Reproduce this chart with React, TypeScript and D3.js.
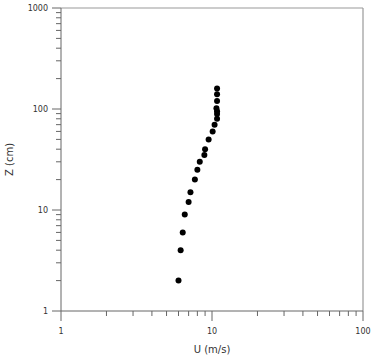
import React from "react";
import * as d3 from "d3";

const uValues = [6.0, 6.2, 6.4, 6.6, 7.0, 7.2, 7.7, 8.0, 8.3, 8.9, 9.0, 9.5, 10.1, 10.4, 10.8, 10.8, 10.8, 10.7, 10.8, 10.8, 10.8];
const zValues = [2, 4, 6, 9, 12, 15, 20, 25, 30, 35, 40, 50, 60, 70, 80, 89, 95, 102, 120, 140, 160];
const xTickLabels = [1, 10, 100];
const yTickLabels = [1, 10, 100, 1000];
const xTitle = "U (m/s)";
const yTitle = "Z (cm)";

const W = 371, H = 355;
const left = 61, right = 363, top = 8, bottom = 311;

function minorTicks(lo: number, hi: number) {
  const out: number[] = [];
  for (let d = lo; d < hi; d *= 10) {
    for (let k = 2; k <= 9; k++) out.push(d * k);
  }
  return out;
}

export default function App() {
  const x = d3.scaleLog().domain([1, 100]).range([left, right]);
  const y = d3.scaleLog().domain([1, 1000]).range([bottom, top]);
  const font = "DejaVu Sans, sans-serif";
  const axisColor = "#666";
  const frameColor = "#999";
  return (
    <svg width={W} height={H} style={{ position: "absolute", left: 0, top: 0, background: "#fff" }}>
      <line x1={left} x2={right} y1={top} y2={top} stroke={frameColor} strokeWidth={1} />
      <line x1={right} x2={right} y1={top} y2={bottom} stroke={frameColor} strokeWidth={1.2} />
      <line x1={left} x2={right} y1={bottom} y2={bottom} stroke={axisColor} strokeWidth={1} />
      <line x1={left} x2={left} y1={top} y2={bottom} stroke={axisColor} strokeWidth={1} />
      {minorTicks(1, 100).map((v, i) => (
        <line key={"xm" + i} x1={x(v)} x2={x(v)} y1={bottom} y2={bottom + 5} stroke={axisColor} />
      ))}
      {xTickLabels.map((v, i) => (
        <g key={"xM" + i}>
          <line x1={x(v)} x2={x(v)} y1={bottom} y2={bottom + 10} stroke={axisColor} />
          <text x={x(v)} y={334} textAnchor="middle" fontFamily={font} fontSize={8} fill="#333">{v}</text>
        </g>
      ))}
      {minorTicks(1, 1000).map((v, i) => (
        <line key={"ym" + i} x1={left - 5} x2={left} y1={y(v)} y2={y(v)} stroke={axisColor} />
      ))}
      {yTickLabels.map((v, i) => (
        <g key={"yM" + i}>
          <line x1={left - 9} x2={left} y1={y(v)} y2={y(v)} stroke={axisColor} />
          <text x={48} y={y(v)} dy="0.35em" textAnchor="end" fontFamily={font} fontSize={8} fill="#333">{v}</text>
        </g>
      ))}
      {uValues.map((u, i) => (
        <circle key={"p" + i} cx={x(u)} cy={y(zValues[i])} r={3} fill="#000" />
      ))}
      <text x={(left + right) / 2} y={353} textAnchor="middle" fontFamily={font} fontSize={10} fill="#333">{xTitle}</text>
      <text transform={`translate(9,${(top + bottom) / 2}) rotate(-90)`} textAnchor="middle" dy="0.35em" fontFamily={font} fontSize={10} fill="#333">{yTitle}</text>
    </svg>
  );
}
